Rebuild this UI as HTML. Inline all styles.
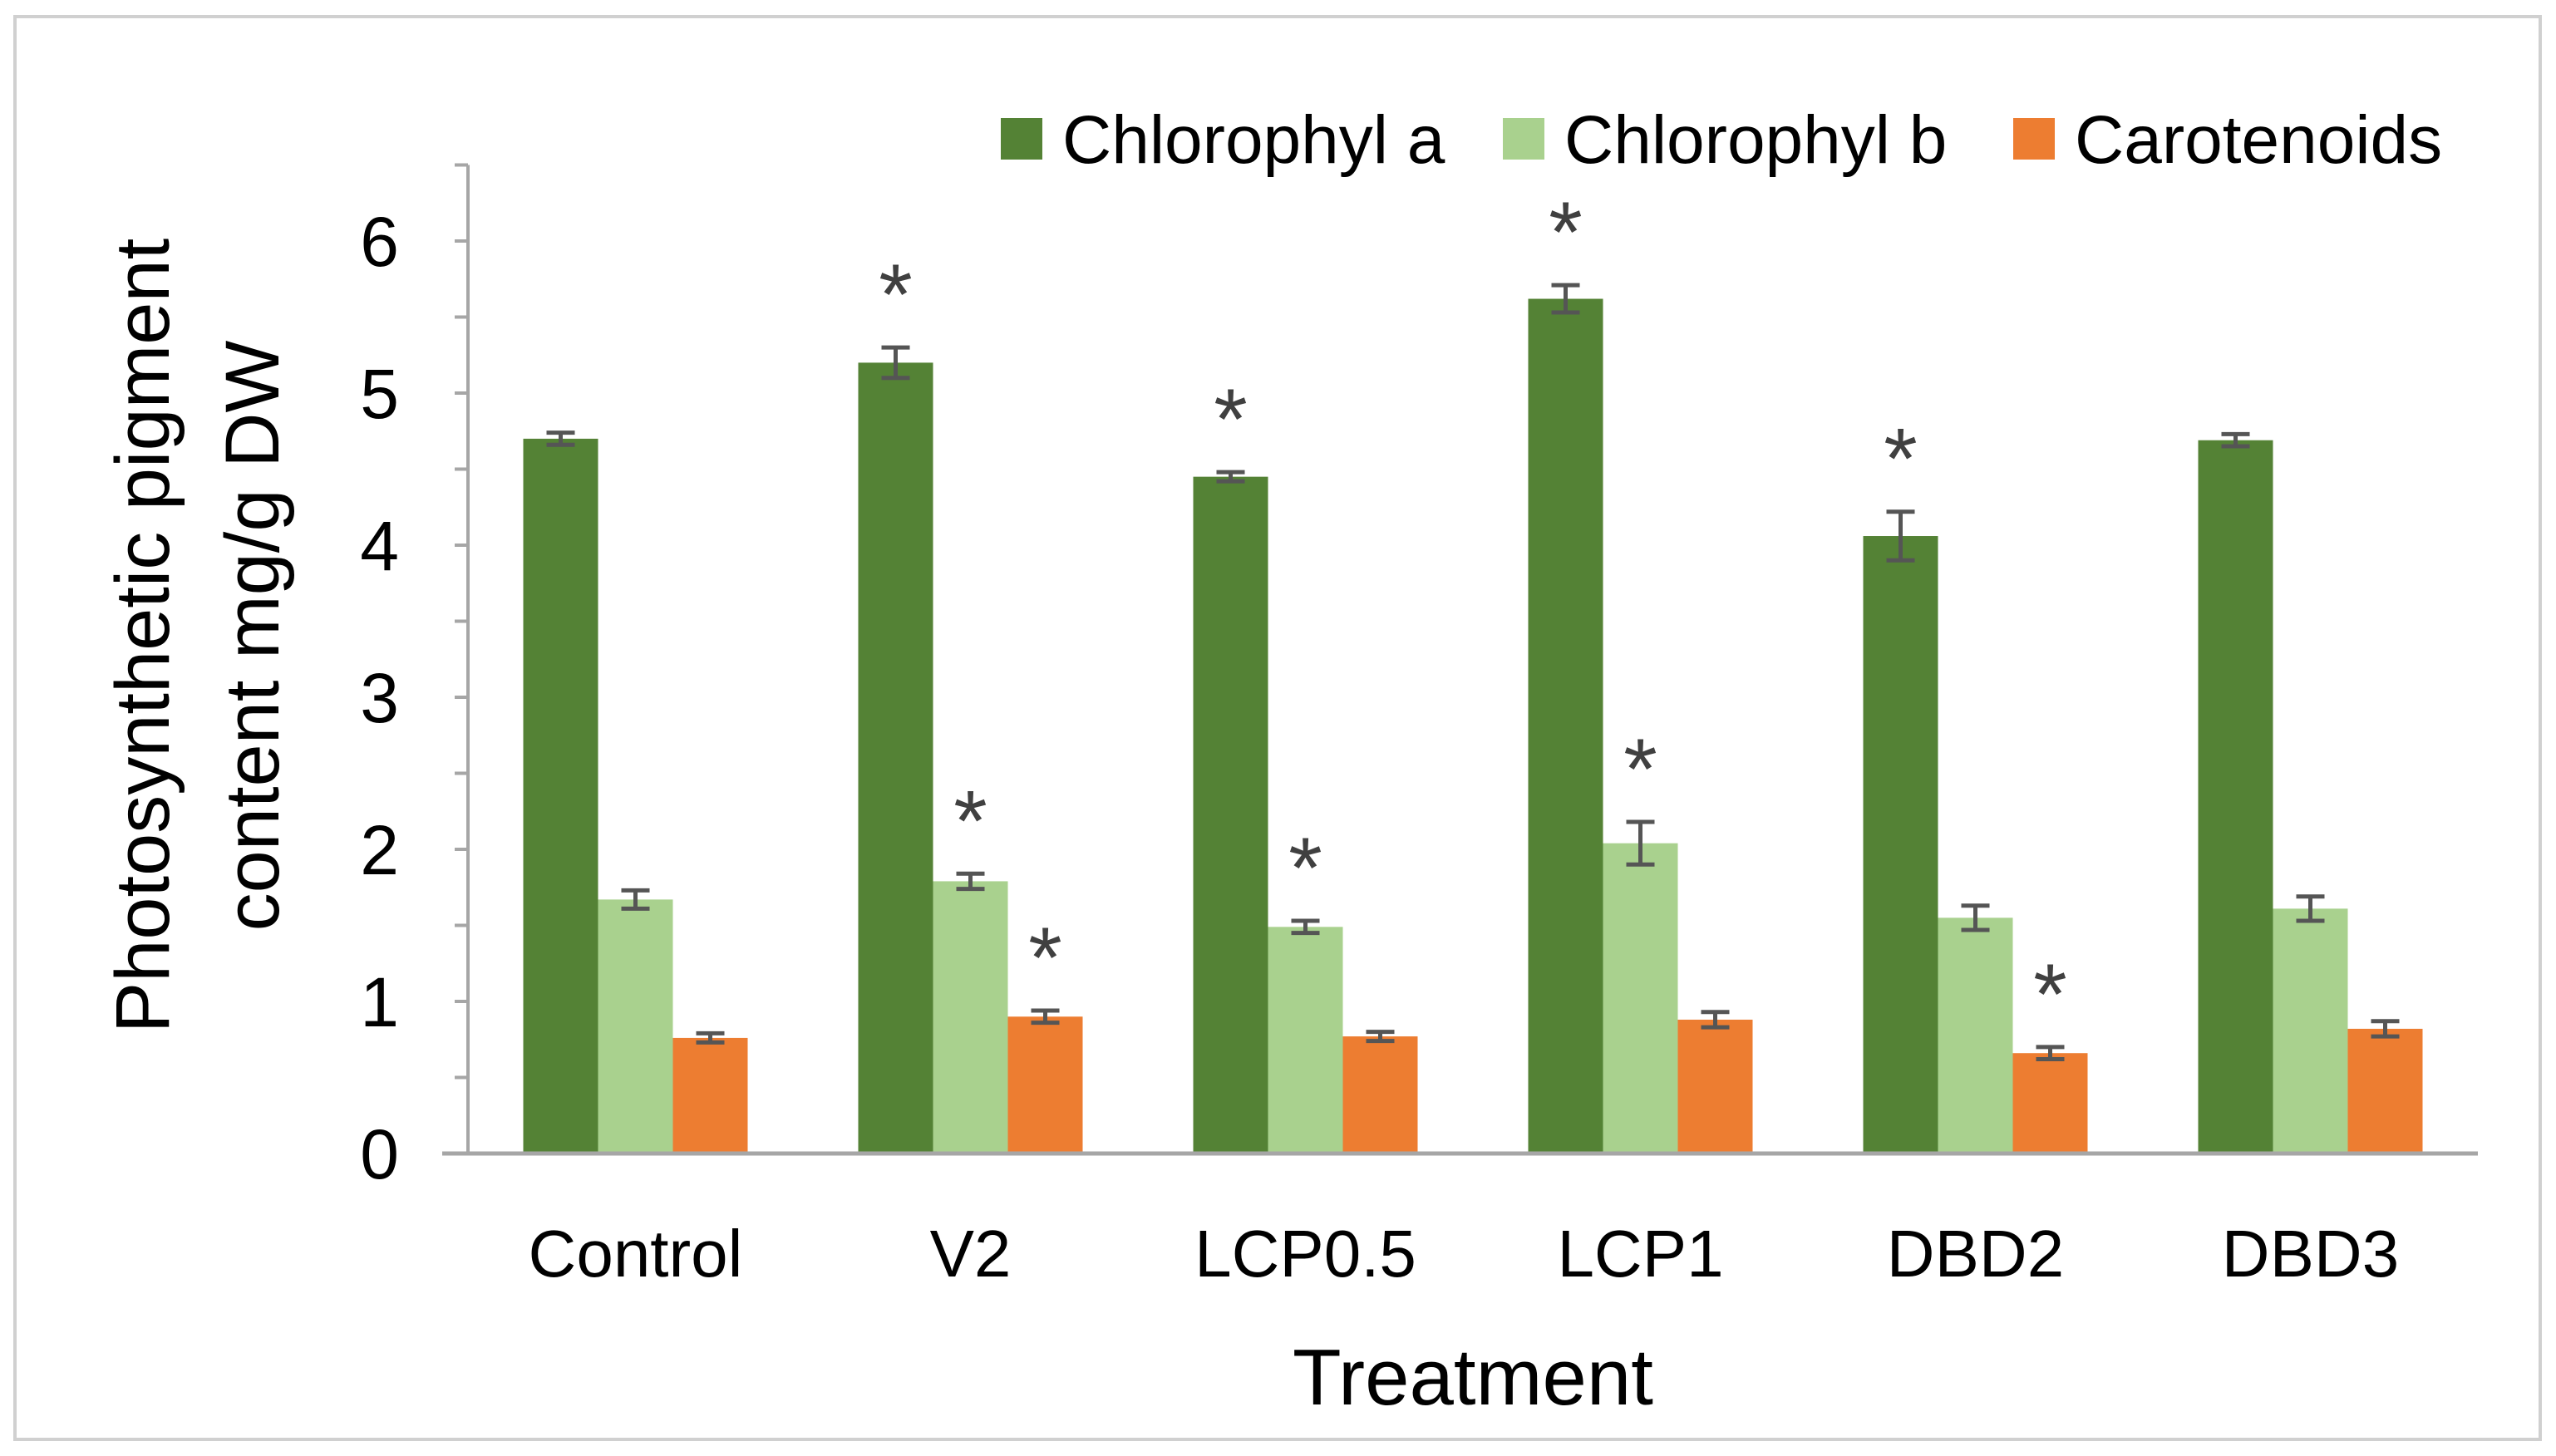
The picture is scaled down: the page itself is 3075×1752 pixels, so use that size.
<!DOCTYPE html>
<html><head><meta charset="utf-8"><style>
body{margin:0;background:#fff;}
svg{display:block;font-family:"Liberation Sans",sans-serif;}
</style></head><body>
<svg id="chart" width="3075" height="1752" viewBox="0 0 3075 1752">
<rect x="18" y="20" width="3038" height="1712" fill="#fff" stroke="#d0d0d0" stroke-width="4"/>
<g id="plot"></g>
</svg>
<script>
const categories=["Control","V2","LCP0.5","LCP1","DBD2","DBD3"];
const seriesNames=["Chlorophyl a","Chlorophyl b","Carotenoids"];
const chlA=[4.70,5.20,4.45,5.62,4.06,4.69];
const chlB=[1.67,1.79,1.49,2.04,1.55,1.61];
const carot=[0.76,0.90,0.77,0.88,0.66,0.82];
const errA=[0.04,0.10,0.03,0.09,0.16,0.04];
const errB=[0.06,0.05,0.04,0.14,0.08,0.08];
const errC=[0.03,0.04,0.03,0.05,0.04,0.05];
const starA=[0,1,1,1,1,0];
const starB=[0,1,1,1,0,0];
const starC=[0,1,0,0,1,0];
const yTicks=[0,1,2,3,4,5,6];
const colors=["#548235","#a9d18e","#ed7d31"];
const NS="http://www.w3.org/2000/svg";
const g=document.getElementById('plot');
const X0=563,X1=2981,Y0=1388,UNIT=183,BW=90;
const gw=(X1-X0)/categories.length;
function yS(v){return Y0-v*UNIT;}
function xS(i,s){return X0+gw*i+gw/2-1.5*BW+s*BW;}
function el(t,a,txt){const e=document.createElementNS(NS,t);for(const k in a)e.setAttribute(k,a[k]);if(txt!==undefined)e.textContent=txt;g.appendChild(e);return e;}
let ax=el('line',{x1:X0,y1:yS(6.5),x2:X0,y2:Y0,stroke:'#a6a6a6','stroke-width':4});


for(let v=0;v<=6.5;v+=0.5){const t=el('line',{x1:X0-16,y1:yS(v),x2:X0,y2:yS(v),stroke:'#a6a6a6','stroke-width':4});

}
yTicks.forEach(v=>{const t=el('text',{x:480,y:yS(v)+30,'text-anchor':'end','font-size':84,fill:'#000'},String(v));

});
const series=[chlA,chlB,carot],errs=[errA,errB,errC],stars=[starA,starB,starC];
categories.forEach((c,i)=>{
 series.forEach((arr,s)=>{
  const x=xS(i,s),v=arr[i];
  const r=el('rect',{x:x,y:yS(v),width:BW,height:Y0-yS(v),fill:colors[s]});
  
  
  const cx=x+BW/2,e=errs[s][i];
  const p=el('path',{d:`M${cx},${yS(v+e)}V${yS(v-e)}M${cx-17},${yS(v+e)}H${cx+17}M${cx-17},${yS(v-e)}H${cx+17}`,stroke:'#555',
   'stroke-width':5,fill:'none'});
  
  
  if(stars[s][i]){const st=el('text',{x:cx,y:yS(v+e)-28,'text-anchor':'middle','font-size':104,fill:'#404040'},'*');
   
   }
 });
 const l=el('text',{x:X0+gw*i+gw/2,y:1536,'text-anchor':'middle','font-size':80,fill:'#000'},c);
 
 
});
let base=el('line',{x1:532,y1:Y0,x2:X1,y2:Y0,stroke:'#a6a6a6','stroke-width':5});


let xt=el('text',{x:1772,y:1690,'text-anchor':'middle','font-size':96,fill:'#000'},'Treatment');


let yt=el('text',{transform:'translate(203,765) rotate(-90)','text-anchor':'middle','font-size':92,fill:'#000'},'Photosynthetic pigment');


let yt2=el('text',{transform:'translate(335,765) rotate(-90)','text-anchor':'middle','font-size':92,fill:'#000'},'content mg/g DW');


const legX=[1204,1808,2422];
seriesNames.forEach((n,s)=>{
 const r=el('rect',{x:legX[s],y:142,width:50,height:50,fill:colors[s]});
 
 
 const t=el('text',{x:legX[s]+74,y:196,'font-size':82,fill:'#000'},n);
 
 
});
</script>
</body></html>
